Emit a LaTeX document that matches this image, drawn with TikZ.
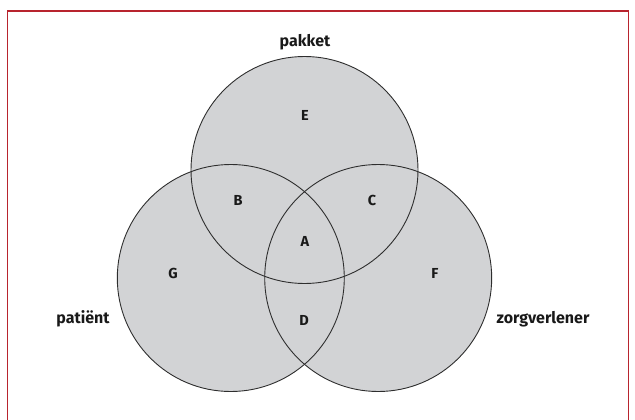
\documentclass[tikz,border=0pt]{standalone}
\usepackage{fontspec}
\newfontfamily\lblfont{Fira Sans}
\definecolor{frame}{HTML}{B8242E}
\definecolor{setfill}{HTML}{D2D3D5}
\definecolor{setline}{HTML}{2E2E2E}
\begin{document}
\begin{tikzpicture}[x=1pt,y=-1pt,
  setarea/.style={fill=setfill},
  setedge/.style={draw=setline,line width=0.9pt},
  region/.style={font=\lblfont\bfseries\fontsize{14.5}{16}\selectfont,text=black!90,inner sep=0pt},
  setname/.style={font=\lblfont\bfseries\fontsize{16}{18}\selectfont,text=black!90,inner sep=0pt}]
  \useasboundingbox (0,0) rectangle (635,420);
  % outer frame (open at the bottom)
  \draw[frame,line width=1.8pt] (7.5,425) -- (7.5,11) -- (628.5,11) -- (628.5,425);
  % centres of the three sets
  \coordinate (cP) at (304.5,170);
  \coordinate (cL) at (230.8,278);
  \coordinate (cR) at (378.2,278);
  % grey areas first, outlines on top
  \fill[setarea] (cP) circle (113.5pt);
  \fill[setarea] (cL) circle (113.5pt);
  \fill[setarea] (cR) circle (113.5pt);
  \draw[setedge] (cP) circle (113.5pt);
  \draw[setedge] (cL) circle (113.5pt);
  \draw[setedge] (cR) circle (113.5pt);
  % set names
  \node[setname] (pakket) at (305,42) {pakket};
  \node[setname] (patient) at (83,319) {patiënt};
  \node[setname] (zorg) at (543,319) {zorgverlener};
  % regions
  \node[region] (E) at (305,115) {E};
  \node[region] (B) at (238,200) {B};
  \node[region] (C) at (372,200) {C};
  \node[region] (A) at (305,241) {A};
  \node[region] (G) at (173,273) {G};
  \node[region] (F) at (435,273) {F};
  \node[region] (D) at (304,320) {D};
\end{tikzpicture}
\end{document}
